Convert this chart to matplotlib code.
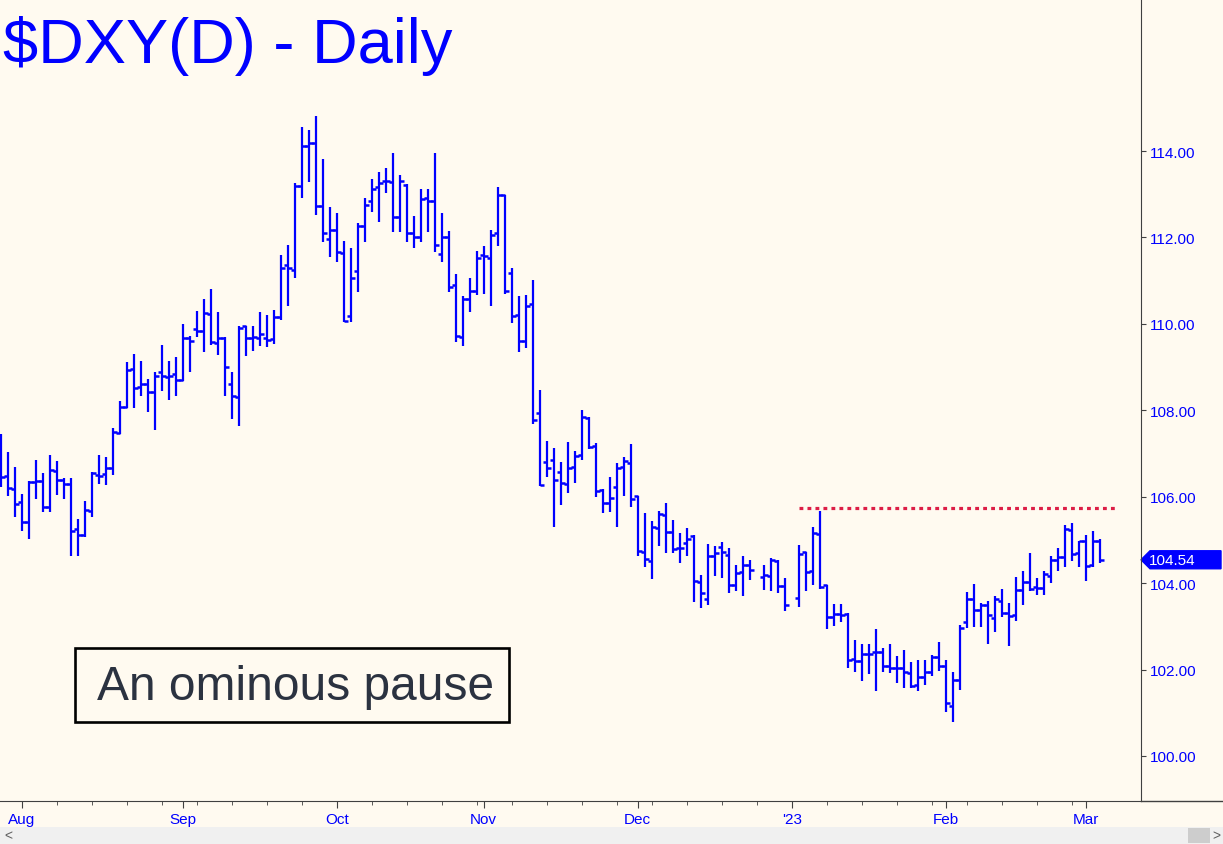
import pandas as pd
import matplotlib
matplotlib.use("Agg")
import matplotlib.pyplot as plt
import matplotlib.transforms as mtransforms
from matplotlib.patches import Rectangle, Polygon
from matplotlib.lines import Line2D

# === CONFIGURATION ===
BG = '#fffaf0'
BLUE = '#0000ff'
W, H = 1223, 845
plt.rcParams['font.family'] = ['Liberation Sans', 'DejaVu Sans']

# === DATA ===
# weekday calendar, two holidays without a bar
days = pd.bdate_range('2022-07-27', '2023-03-03')
holidays = pd.to_datetime(['2022-12-26', '2023-01-02'])
dates = days[~days.isin(holidays)]

opens = [106.64, 106.48, 106.18, 105.88, 105.41, 106.34, 106.36, 105.76, 106.60, 106.39,
         106.29, 105.25, 105.11, 105.67, 106.50, 106.53, 106.67, 107.47, 108.08, 108.96,
         108.54, 108.61, 108.42, 108.89, 108.77, 108.84, 108.70, 109.67, 109.88, 109.84,
         110.23, 109.56, 109.67, 108.61, 108.31, 109.95, 109.67, 109.67, 109.67, 109.65,
         110.16, 111.36, 111.25, 113.19, 114.12, 114.19, 112.73, 111.96, 112.17, 111.64,
         110.18, 111.22, 112.26, 112.84, 113.17, 113.31, 113.28, 112.47, 113.21, 112.10,
         112.01, 112.91, 112.84, 111.62, 112.01, 110.90, 109.70, 110.58, 110.76, 111.59,
         111.52, 112.10, 112.98, 111.18, 110.21, 109.60, 110.46, 107.94, 106.80, 106.85,
         106.57, 106.29, 106.69, 106.97, 107.82, 107.17, 106.16, 105.85, 106.23, 106.69,
         106.78, 106.02, 104.72, 104.51, 105.28, 105.58, 105.18, 104.81, 104.93, 105.09,
         104.03, 103.63, 104.63, 104.84, 104.65, 103.96, 104.26, 104.42, 104.14,
         104.16, 104.51, 103.93, 103.65, 104.72, 104.28, 105.14, 103.96, 103.22,
         103.29, 103.29, 102.24, 102.20, 102.36, 102.40, 102.40, 102.08, 102.04, 102.04,
         101.92, 101.64, 101.83, 101.94, 102.29, 102.08, 101.16, 101.76, 103.10, 103.63,
         103.38, 103.49, 103.19, 103.59, 103.31, 103.26, 103.84, 104.03, 103.91, 103.89,
         104.16, 104.53, 104.60, 105.23, 104.70, 104.98, 104.42, 104.98]

highs = [107.45, 107.03, 106.69, 106.06, 106.36, 106.85, 106.55, 106.97, 106.83, 106.43,
         106.43, 105.48, 105.90, 106.57, 106.97, 106.92, 107.59, 108.21, 109.12, 109.30,
         109.14, 108.72, 108.89, 109.51, 109.14, 109.23, 110.00, 109.72, 110.30, 110.58,
         110.81, 110.28, 109.70, 108.89, 109.95, 109.95, 109.95, 110.28, 110.21, 110.32,
         111.59, 111.82, 113.26, 114.56, 114.49, 114.81, 113.82, 112.70, 112.57, 111.92,
         111.76, 112.33, 112.91, 113.35, 113.52, 113.61, 113.95, 113.45, 113.24, 112.50,
         113.12, 113.12, 113.95, 112.57, 112.15, 111.15, 110.64, 111.06, 111.69, 111.80,
         112.17, 113.17, 112.98, 111.29, 110.64, 110.67, 111.02, 108.47, 107.29, 107.13,
         106.80, 107.27, 107.06, 108.01, 107.85, 107.24, 106.18, 106.46, 106.78, 106.92,
         107.22, 106.02, 105.62, 105.44, 105.67, 105.85, 105.46, 105.16, 105.28, 105.11,
         104.19, 104.91, 104.86, 104.95, 104.81, 104.42, 104.63, 104.53, 104.42,
         104.58, 104.53, 104.12, 104.88, 104.72, 105.30, 105.67, 103.96, 103.52,
         103.52, 103.31, 102.68, 102.59, 102.59, 102.94, 102.50, 102.59, 102.31, 102.45,
         102.17, 102.22, 102.22, 102.33, 102.64, 102.22, 101.94, 103.03, 103.79, 103.98,
         103.54, 103.59, 103.70, 103.86, 103.54, 104.14, 104.28, 104.70, 104.12, 104.28,
         104.63, 104.81, 105.34, 105.39, 104.98, 105.11, 105.21, 105.02]

lows = [106.23, 106.02, 105.53, 105.21, 105.02, 105.95, 105.65, 105.65, 106.04, 105.95,
        104.63, 104.63, 105.07, 105.53, 106.29, 106.27, 106.50, 107.45, 108.05, 108.05,
        108.33, 107.96, 107.54, 108.45, 108.24, 108.33, 108.68, 108.89, 109.70, 109.35,
        109.51, 109.28, 108.33, 107.80, 107.64, 109.26, 109.37, 109.49, 109.46, 109.53,
        110.09, 110.41, 111.06, 112.91, 113.28, 112.52, 111.89, 111.55, 111.43, 110.04,
        110.04, 110.74, 111.89, 112.59, 112.36, 113.03, 112.13, 112.13, 111.89, 111.76,
        111.89, 112.13, 111.66, 111.43, 110.74, 109.58, 109.49, 110.28, 110.67, 110.69,
        110.41, 111.80, 110.69, 110.02, 109.35, 109.44, 107.68, 106.25, 106.46, 105.30,
        105.81, 106.09, 106.32, 106.85, 107.10, 105.99, 105.62, 105.65, 105.30, 106.02,
        105.76, 104.63, 104.37, 104.09, 104.86, 104.70, 104.70, 104.47, 104.63, 103.56,
        103.42, 103.49, 104.16, 104.12, 103.77, 103.82, 103.70, 104.07, 103.84,
        103.82, 103.77, 103.35, 103.45, 103.82, 103.96, 103.86, 102.94, 103.01,
        103.10, 102.04, 101.94, 101.74, 101.90, 101.50, 101.94, 101.92, 101.69, 101.57,
        101.57, 101.50, 101.64, 101.85, 101.97, 101.02, 100.79, 101.53, 102.96, 102.98,
        102.98, 102.59, 102.87, 103.22, 102.54, 103.12, 103.49, 103.82, 103.72, 103.72,
        104.01, 104.28, 104.37, 104.51, 104.37, 104.05, 104.37, 104.47]

closes = [106.46, 106.20, 105.83, 105.41, 106.34, 106.36, 105.76, 106.62, 106.39, 106.29,
          105.21, 105.11, 105.69, 106.55, 106.48, 106.67, 107.50, 108.08, 108.93, 108.52,
          108.61, 108.42, 108.79, 108.79, 108.79, 108.70, 109.67, 109.60, 109.84, 110.25,
          109.58, 109.67, 109.00, 108.33, 109.90, 109.67, 109.70, 109.77, 109.63, 110.16,
          111.29, 111.29, 113.19, 114.12, 114.19, 112.73, 112.10, 112.17, 111.66, 110.07,
          111.06, 112.26, 112.75, 113.12, 113.26, 113.31, 112.47, 113.31, 112.10, 112.01,
          112.89, 112.84, 111.82, 112.01, 110.85, 109.72, 110.58, 110.76, 111.52, 111.57,
          112.06, 112.98, 110.76, 110.18, 109.60, 110.41, 107.78, 106.27, 106.67, 106.39,
          106.32, 106.67, 106.94, 107.85, 107.15, 106.13, 105.85, 105.97, 106.67, 106.83,
          105.95, 104.74, 104.56, 105.30, 105.60, 105.18, 104.79, 104.81, 105.02, 104.05,
          103.77, 104.63, 104.70, 104.72, 103.96, 104.23, 104.42, 104.30, 104.19,
          104.53, 103.93, 103.49, 104.67, 104.26, 105.16, 103.91, 103.22, 103.29,
          103.26, 102.22, 102.20, 102.36, 102.36, 102.40, 102.08, 102.04, 102.04, 101.94,
          101.62, 101.83, 101.94, 102.29, 102.08, 101.23, 101.76, 102.96, 103.63, 103.38,
          103.49, 103.26, 103.63, 103.31, 103.24, 103.84, 104.03, 103.86, 103.89, 104.21,
          104.53, 104.60, 105.25, 104.67, 104.98, 104.40, 104.98, 104.54]

resistance = 105.74
resistance_start = '2023-01-03'
y_ticks = [100, 102, 104, 106, 108, 110, 112, 114]
title = '$DXY(D) - Daily'
note = 'An ominous pause'

# === POSITIONS ===
x = days.get_indexer(dates)
last_close = closes[-1]

fig = plt.figure(figsize=(W / 100, H / 100), dpi=100, facecolor=BG)
ax = fig.add_axes([0, 43 / H, 1141 / W, 802 / H], facecolor=BG)

# --- OHLC bars ---
ax.vlines(x, lows, highs, color=BLUE, lw=1.6)
ax.hlines(opens, x - 0.55, x, color=BLUE, lw=1.8)
ax.hlines(closes, x, x + 0.55, color=BLUE, lw=1.8)

# --- resistance line ---
x0 = days.get_loc(pd.Timestamp(resistance_start))
ax.plot([x0, x[-1] + 2.5], [resistance, resistance], color='#dc1e46', lw=2.3,
        linestyle=(0, (1.2, 1.3)), dash_capstyle='butt')

ax.set_xlim(-0.1, 162.9)
ax.set_ylim(98.957, 117.518)

# --- axes ---
for s in ['top', 'left']:
    ax.spines[s].set_visible(False)
ax.spines['right'].set_color('#404040')
ax.spines['bottom'].set_color('#404040')
fig.add_artist(Line2D([1141 / W, 1], [43 / H, 43 / H], color='#404040', lw=1))

ax.yaxis.tick_right()
ax.set_yticks(y_ticks)
ax.set_yticklabels([f'{v:.2f}' for v in y_ticks])
ax.tick_params(axis='y', colors='#404040', labelcolor=BLUE, labelsize=11,
               length=3.5, pad=3)

shown = days[days >= '2022-08-01']
month_first = pd.Series(shown).groupby([shown.year, shown.month]).min()
month_pos = days.get_indexer(month_first)
month_lbl = ["'23" if d.month == 1 else d.strftime('%b') for d in month_first]
mondays = days.get_indexer(days[days.dayofweek == 0])
ax.set_xticks(month_pos)
ax.set_xticklabels(month_lbl)
ax.set_xticks(mondays, minor=True)
ax.tick_params(axis='x', which='major', colors='#404040', labelcolor=BLUE,
               labelsize=11, length=5, pad=3)
ax.tick_params(axis='x', which='minor', colors='#404040', length=3)

# --- last price tag ---
tr = mtransforms.blended_transform_factory(ax.transAxes, ax.transData)
hh = 9 / 43.21
ax.add_patch(Polygon([(1.0, last_close), (1150 / 1141, last_close + hh),
                      (1221 / 1141, last_close + hh), (1221 / 1141, last_close - hh),
                      (1150 / 1141, last_close - hh)],
                     closed=True, transform=tr, fc=BLUE, ec=BLUE, clip_on=False))
ax.text(1172 / 1141, last_close, f'{last_close:.2f}', transform=tr, color='white',
        fontsize=11, ha='center', va='center', clip_on=False)

# --- title and note ---
fig.text(3 / W, (H - 63) / H, title, fontsize=45.5, color=BLUE, va='baseline', ha='left')
fig.add_artist(Rectangle((75 / W, 122 / H), 434 / W, 74 / H, transform=fig.transFigure,
                         fc=BG, ec='black', lw=1.9))
fig.text(296 / W, (H - 700) / H, note, fontsize=34.5, color='#2b3240',
         va='baseline', ha='center')

# --- scroll bar ---
fig.add_artist(Rectangle((0, 0), 1, 17 / H, transform=fig.transFigure, fc='#f0f0f0', ec='none'))
fig.add_artist(Rectangle((1188 / W, 1 / H), 22 / W, 15 / H, transform=fig.transFigure,
                         fc='#cdcdcd', ec='none'))
fig.text(8 / W, 8.5 / H, '<', fontsize=10, color='#606060', ha='center', va='center')
fig.text(1216 / W, 8.5 / H, '>', fontsize=10, color='#606060', ha='center', va='center')

fig.savefig('out.png', dpi=100, facecolor=BG)
